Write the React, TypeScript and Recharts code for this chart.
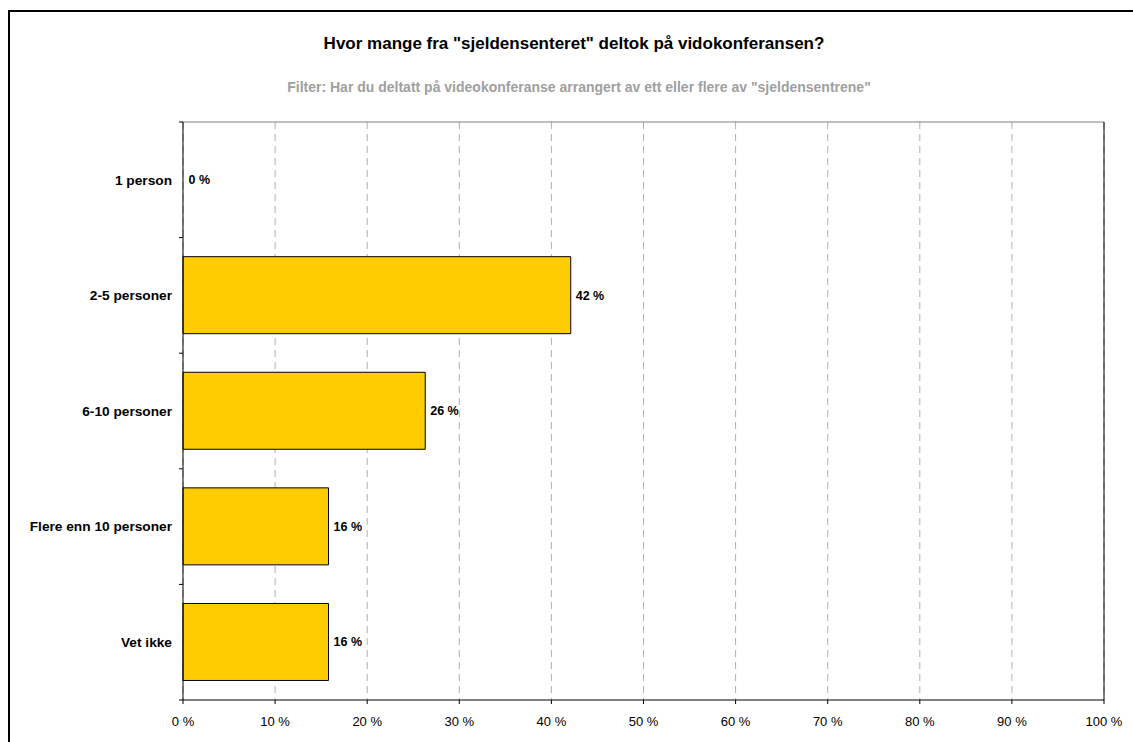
import React from "react";
import {
  BarChart,
  Bar,
  Cell,
  XAxis,
  YAxis,
  CartesianGrid,
  ReferenceLine,
  LabelList,
} from "recharts";

const categories = [
  "1 person",
  "2-5 personer",
  "6-10 personer",
  "Flere enn 10 personer",
  "Vet ikke",
];
const shares = [0, 42.1, 26.3, 15.8, 15.8];
const xTicks = [0, 10, 20, 30, 40, 50, 60, 70, 80, 90, 100];

const title = 'Hvor mange fra "sjeldensenteret" deltok på vidokonferansen?';
const subtitle =
  'Filter: Har du deltatt på videokonferanse arrangert av ett eller flere av "sjeldensentrene"';

const FONT = '"Liberation Sans", Arial, sans-serif';
const TICK_SIZE = 8;
const TICK_MARGIN = 3;

const data = categories.map((name, i) => ({ name, value: shares[i] }));

// category label at band centre, small tick marks at band edges
function CategoryTick(props: any) {
  const { x, y, payload, index, visibleTicksCount } = props;
  const half = payload?.offset ?? 0;
  const axisX = x + TICK_SIZE + TICK_MARGIN;
  const last = index === visibleTicksCount - 1;
  return (
    <g>
      <line x1={axisX - 4} x2={axisX} y1={y - half} y2={y - half} stroke="#000" />
      {last && (
        <line x1={axisX - 4} x2={axisX} y1={y + half} y2={y + half} stroke="#000" />
      )}
      <text
        x={x}
        y={y}
        dy="0.35em"
        textAnchor="end"
        fill="#000"
        fontSize={13.7}
        fontWeight="bold"
        fontFamily={FONT}
      >
        {payload.value}
      </text>
    </g>
  );
}

export default function App() {
  return (
    <div
      style={{
        position: "absolute",
        left: 0,
        top: 0,
        width: 1133,
        height: 742,
        overflow: "hidden",
        background: "#fff",
        fontFamily: FONT,
      }}
    >
      <div
        style={{
          position: "absolute",
          left: 8,
          top: 10,
          width: 1200,
          height: 800,
          border: "2px solid #000",
        }}
      />
      <div
        style={{
          position: "absolute",
          left: 0,
          width: 1133,
          top: 34,
          textAlign: "center",
          fontSize: 17,
          fontWeight: "bold",
          color: "#000",
          paddingLeft: 15,
          boxSizing: "border-box",
          whiteSpace: "nowrap",
        }}
      >
        {title}
      </div>
      <div
        style={{
          position: "absolute",
          left: 0,
          width: 1133,
          top: 79,
          textAlign: "center",
          fontSize: 14,
          fontWeight: "bold",
          color: "#a0a0a0",
          paddingLeft: 25,
          boxSizing: "border-box",
          whiteSpace: "nowrap",
        }}
      >
        {subtitle}
      </div>
      <div style={{ position: "absolute", left: 0, top: 0 }}>
        <BarChart
          width={1133}
          height={742}
          data={data}
          layout="vertical"
          margin={{ top: 122, right: 29, bottom: 12, left: 0 }}
          barCategoryGap="16.5%"
        >
          <CartesianGrid
            horizontal={false}
            stroke="#b0b0b0"
            strokeDasharray="7 5"
          />
          <CartesianGrid
            vertical={false}
            horizontalCoordinatesGenerator={({ offset }: any) => [offset.top]}
            stroke="#808080"
          />
          <XAxis
            type="number"
            domain={[0, 100]}
            ticks={xTicks}
            interval={0}
            tickFormatter={(v: number) => `${v} %`}
            tick={{ fill: "#000", stroke: "none", fontSize: 13, fontFamily: FONT }}
            tickSize={4}
            tickMargin={13}
            tickLine={{ stroke: "#000" }}
            axisLine={{ stroke: "#000" }}
            height={30}
          />
          <YAxis
            type="category"
            dataKey="name"
            width={183}
            interval={0}
            tickLine={false}
            tickSize={TICK_SIZE}
            tickMargin={TICK_MARGIN}
            axisLine={{ stroke: "#000" }}
            tick={<CategoryTick />}
          />
          <ReferenceLine x={100} stroke="#000" />
          <Bar
            dataKey="value"
            fill="#FFCC00"
            stroke="#000"
            strokeWidth={1}
            minPointSize={0.5}
            isAnimationActive={false}
          >
            {data.map((d) => (
              <Cell
                key={d.name}
                fillOpacity={d.value === 0 ? 0 : 1}
                strokeOpacity={d.value === 0 ? 0 : 1}
              />
            ))}
            <LabelList
              dataKey="value"
              position="right"
              offset={5}
              formatter={(v: any) => `${Math.round(Number(v))} %`}
              style={{
                fill: "#000",
                fontSize: 12.5,
                fontWeight: "bold",
                fontFamily: FONT,
              }}
            />
          </Bar>
        </BarChart>
      </div>
    </div>
  );
}
